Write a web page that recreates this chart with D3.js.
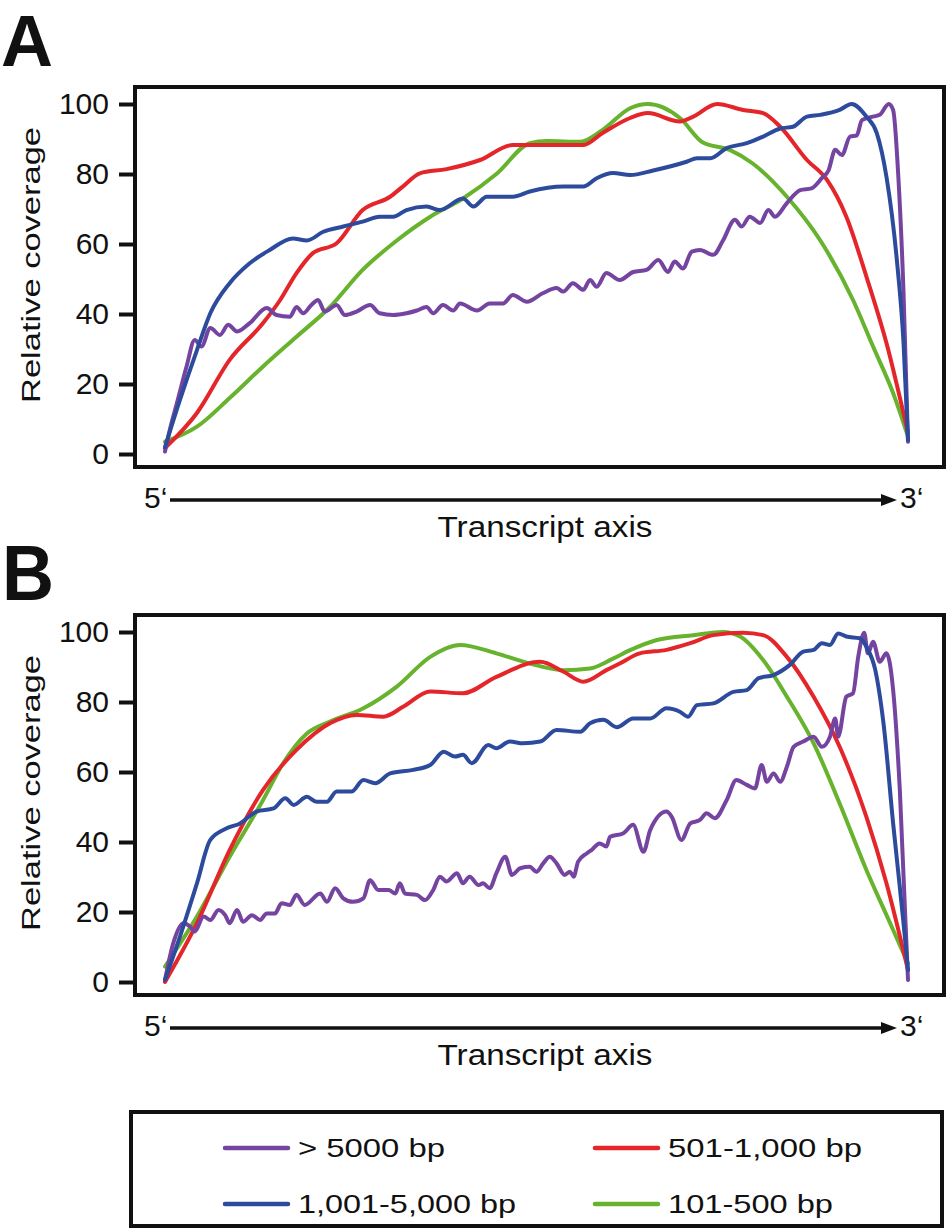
<!DOCTYPE html>
<html>
<head>
<meta charset="utf-8">
<script src="https://cdn.jsdelivr.net/npm/d3@7"></script>
<style>
  html, body { margin: 0; padding: 0; background: #fff; }
  svg text { font-family: "Liberation Sans", Arial, Helvetica, sans-serif; fill: #111; }
</style>
</head>
<body>
<svg id="chart" width="948" height="1230"></svg>
<script>
// ---------------- DATA ----------------
// position along transcript (0 = 5' end, 100 = 3' end), relative coverage (%)
const seriesNames = ["> 5000 bp", "1,001-5,000 bp", "501-1,000 bp", "101-500 bp"];
const seriesColors = ["#7444a0", "#2c4b9c", "#e4262b", "#67b32e"];
const yTicks = [0, 20, 40, 60, 80, 100];
const panelLabels = ["A", "B"];

const purpleA = [[0,0.7],[0.7,7.4],[1.6,14.5],[2.9,25],[4,32.6],[4.9,30.7],[6.1,36],[7.4,34],[8.5,36.9],[9.7,35],[11.4,37.4],[13.7,41.7],[15,39.7],[16.8,39.2],[17.7,42],[18.6,40.2],[19.7,42.6],[20.6,44],[21.5,40.7],[23.1,42.6],[24.2,39.7],[25.8,40.7],[27.6,42.6],[28.9,40.2],[30.7,39.7],[32.5,40.2],[33.9,41],[35.2,42],[36.1,40.2],[37.4,42.6],[38.8,41],[39.7,43],[42,41],[43.7,43],[45.5,43],[46.8,45.4],[48.7,43.5],[50.9,46],[52.7,47.4],[53.6,46.4],[54.9,48.8],[56.3,46.9],[57.2,49.7],[58.1,47.8],[59.4,51.7],[61.2,49.7],[63,52],[64.8,52.6],[66.4,55.4],[67.7,52],[68.6,55],[69.7,53],[70.9,57.8],[72,58.3],[73.8,56.9],[75.1,61],[76.7,66.9],[77.6,65],[78.7,67.8],[80.1,66],[81.2,69.7],[82.1,67.8],[83.7,71.7],[85.5,75.4],[87,75.9],[88.4,78.8],[89.3,81],[90.2,86.9],[91.1,85.4],[92.2,90.7],[93.1,91],[93.8,95.4],[95.3,96.4],[96.2,96.9],[97.4,100],[98,98.3],[98.7,79.2],[99.4,46],[100,3.5]];
const blueA = [[0,2],[2,15.4],[4.3,29.7],[6.1,40.2],[8.7,48.8],[11.4,54.5],[14.1,58.3],[17.2,61.6],[19.1,61],[21.3,63.5],[24,65],[26.6,66.4],[28.9,67.8],[30.7,67.8],[32.5,69.7],[35.2,70.7],[37,69.7],[40.1,73],[41.5,70.7],[43.3,73.5],[46.8,73.5],[49.1,75],[53.6,76.4],[56.3,76.4],[58.1,78.8],[60.3,80.3],[62.6,79.7],[65.7,81],[70.2,83.5],[71.6,84.5],[73.4,84.5],[75.6,87.4],[78.3,88.8],[80.5,90.7],[82.8,93],[84.5,93.5],[86.4,96.4],[88.2,96.9],[90.8,98.3],[92.4,100],[94.4,96.4],[95.8,91.7],[97.1,79.2],[98.5,55.4],[99.4,31.7],[100,4]];
const redA = [[0,1.7],[4.3,11.7],[8.7,26.9],[13.2,37.4],[15.5,44],[17.7,51.7],[19.9,57.4],[23.1,60.2],[26.6,69.7],[30.3,73.5],[32,76.4],[34.3,80.2],[37.9,81.4],[42.4,84],[46.8,88.3],[51.4,88.3],[56.3,88.3],[58.9,91.7],[62.6,96],[65,97.4],[69.3,95],[71.1,96.4],[74.3,100],[77.8,98.3],[80.5,97.4],[82.8,93.5],[86.4,84],[89.1,78.3],[91.7,67.8],[94.4,50.7],[97.1,31.7],[100,6]];
const greenA = [[0,3.5],[4.3,7.8],[8.7,16],[13.2,25],[17.7,33.5],[22.2,42],[26.6,52.6],[31.2,61],[35.7,67.8],[40.1,73],[44.6,80],[49.1,88.8],[51.4,89.4],[55.9,89.2],[58.9,92.6],[62.6,98.8],[65,100],[69.3,96],[72.4,89],[76,86.9],[79.1,83],[83.7,73.5],[88.2,61],[92.6,44],[95.3,30.7],[98,17.4],[100,5]];

const purpleB = [[0,0.6],[1.1,11],[2.5,16.8],[3.4,15.8],[4,14.4],[5.2,18.7],[6.1,17.7],[7.2,20.6],[8.1,19.1],[8.7,16.8],[9.7,20.6],[10.5,17.2],[11.7,19.1],[12.8,17.7],[13.7,19.6],[14.8,19.6],[15.7,22.5],[16.8,22],[17.7,24.9],[18.8,22],[20.9,25.3],[21.8,22.9],[22.9,26.8],[24,23.9],[25.3,22.9],[26.7,23.9],[27.6,29.1],[28.7,26.3],[30.1,26.3],[31,25.3],[31.6,28.2],[32.3,25.3],[33.9,24.9],[35,23.4],[36.1,26.3],[37,30.1],[37.9,28.7],[39.3,31.1],[40.1,28.2],[41,30.1],[42.2,27.7],[42.8,28.2],[43.7,26.8],[44.6,31.1],[45.8,35.8],[46.7,30.6],[47.8,32.5],[49.1,32.9],[50,31.5],[50.9,33.9],[51.8,35.8],[52.7,33.9],[53.8,30.6],[54.5,31.5],[55,30.1],[55.6,34.4],[56.8,36.8],[57.4,37.7],[58.5,39.6],[59.4,38.7],[59.9,41.5],[61.7,42.5],[63,44.9],[64.4,37.2],[65.3,43.4],[67.5,48.7],[68.2,47.2],[69.5,40.6],[70.7,45.3],[72,46.3],[72.9,48.2],[74,46.8],[75.6,52],[76.9,57.7],[78.3,56.3],[79.4,55.3],[80.3,62],[81,57.2],[81.9,59.6],[82.8,57.2],[83.7,61.5],[84.6,67.2],[85.9,68.7],[87.3,70.1],[88.4,67.2],[89.5,70.1],[90.2,75.3],[90.6,70.1],[91.7,81.5],[92.6,82.5],[93.3,92.9],[94.1,99.8],[94.6,93.9],[95.3,97.2],[96.2,91.5],[97.1,93.9],[98,83.4],[98.9,54.9],[100,0.6]];
const blueB = [[0,0.6],[2,12.9],[4.3,28.2],[6.1,40.6],[8.3,43.9],[10.1,45.3],[12.3,48.7],[14.6,49.6],[16.2,52.5],[17.3,50.6],[19.1,52.9],[20.4,51.5],[21.8,51.5],[23.1,54.4],[25.1,54.4],[26.7,57.7],[28.3,56.8],[30.3,59.6],[33.4,60.6],[35.7,62],[37.5,65.8],[39,64.4],[40.1,64.9],[41.3,62.5],[43.5,67.7],[44.6,66.8],[46.4,68.7],[48.2,68.2],[50.5,68.7],[52.7,72],[55.9,71.5],[57.2,73.9],[59,74.9],[60.8,72.8],[63,75.3],[65.3,75.3],[67.5,78.2],[69.3,77.2],[70.4,75.8],[71.6,79.1],[73.8,79.6],[76.5,82.9],[78.3,83.4],[79.9,86.8],[81.9,87.7],[84.1,90.6],[85.9,94.4],[87.3,94.9],[88.4,96.8],[89.5,96.3],[90.6,99.6],[91.7,98.7],[93.5,98.2],[94.4,95.8],[95.6,89.1],[96.7,73.9],[98,45.3],[99.4,16.8],[100,3.4]];
const redB = [[0,0],[4.3,16.8],[8.7,37.7],[13.2,54.9],[17.7,66.3],[22.2,73.9],[25.8,76.3],[29.4,75.8],[32.1,78.7],[35.7,83],[40.1,82.5],[44.6,87.2],[50.5,91.5],[53.6,88.7],[56.3,85.8],[59.4,89.1],[61.2,91],[63.9,93.9],[67.5,94.9],[70.7,96.8],[73.8,99.1],[77.8,99.8],[80.5,99.1],[83.7,92.9],[87.3,81.5],[90.8,67.2],[94.4,47.2],[97.1,28.2],[100,3.4]];
const greenB = [[0,4.4],[4.3,18.7],[8.7,35.8],[13.2,52],[15.9,62.5],[19.1,71],[22.2,74.4],[26.7,78.2],[31.2,84.4],[35.7,92.9],[39.7,96.3],[44.6,93.9],[49.1,91],[53.6,89.1],[57.2,89.6],[60.3,92.4],[62.6,94.8],[66.2,97.7],[71.1,99.1],[75.1,100],[77.4,98.7],[80.5,92],[83.7,81.5],[87.3,68.2],[90.8,51],[94.4,32],[97.6,16.8],[100,5.3]];

const panels = [
  { label: panelLabels[0], series: [purpleA, blueA, redA, greenA] },
  { label: panelLabels[1], series: [purpleB, blueB, redB, greenB] }
];

// ---------------- DRAW ----------------
const svg = d3.select("#chart");
const FONT = 30;
const panelOffset = 528;

const x = d3.scaleLinear().domain([0, 100]).range([165, 908]);
const drawOrder = [3, 2, 0, 1];

panels.forEach((p, i) => {
  const g = svg.append("g").attr("transform", `translate(0,${i * panelOffset})`);
  const y = d3.scaleLinear().domain([0, 100]).range([454, 104]);

  // panel letter
  g.append("text").attr("x", i === 0 ? 1 : 2).attr("y", i === 0 ? 66 : 72)
    .attr("font-size", i === 0 ? 73 : 77).attr("font-weight", "bold")
    .attr("textLength", 52).attr("lengthAdjust", "spacingAndGlyphs")
    .style("fill", "#111").text(p.label);

  // y axis
  const ax = g.append("g").attr("transform", "translate(135,0)")
    .call(d3.axisLeft(y).tickValues(yTicks).tickSize(16).tickPadding(10).tickFormat(d3.format("d")));
  ax.select(".domain").remove();
  ax.selectAll(".tick line").attr("stroke", "#111").attr("stroke-width", 4);
  ax.selectAll(".tick text").attr("font-size", FONT).style("fill", "#111")
    .attr("font-family", '"Liberation Sans", Arial, sans-serif');

  // y label
  g.append("text").attr("transform", "translate(40,265) rotate(-90)")
    .attr("text-anchor", "middle").attr("font-size", 25)
    .attr("textLength", 276).attr("lengthAdjust", "spacingAndGlyphs")
    .text("Relative coverage");

  // lines
  const line = d3.line().x(d => x(d[0])).y(d => y(d[1])).curve(d3.curveMonotoneX);
  drawOrder.forEach(k => {
    g.append("path").datum(p.series[k]).attr("d", line)
      .attr("fill", "none").attr("stroke", seriesColors[k])
      .attr("stroke-width", 4).attr("stroke-linejoin", "round").attr("stroke-linecap", "round");
  });

  // frame
  g.append("rect").attr("x", 135).attr("y", 87).attr("width", 809).attr("height", 380)
    .attr("fill", "none").attr("stroke", "#111").attr("stroke-width", 4);

  // transcript axis arrow
  g.append("line").attr("x1", x(0) + 5).attr("x2", x(100) - 24).attr("y1", 500).attr("y2", 500)
    .attr("stroke", "#111").attr("stroke-width", 3.5);
  const tip = x(100) - 11;
  g.append("path").attr("d", `M${tip - 16},${500 - 6}L${tip},500L${tip - 16},${500 + 6}Z`).attr("fill", "#111");
  g.append("text").attr("x", 144).attr("y", 508).attr("font-size", FONT).text("5\u2018");
  g.append("text").attr("x", 900).attr("y", 508).attr("font-size", FONT).text("3\u2018");
  g.append("text").attr("x", 545).attr("y", 537).attr("text-anchor", "middle").attr("font-size", FONT)
    .attr("textLength", 215).attr("lengthAdjust", "spacingAndGlyphs").text("Transcript axis");
});

// legend
const lg = svg.append("g");
lg.append("rect").attr("x", 131).attr("y", 1112).attr("width", 811).attr("height", 114)
  .attr("fill", "none").attr("stroke", "#111").attr("stroke-width", 4);
const legendPos = [
  { lx: 225, ly: 1148, w: 147 },
  { lx: 225, ly: 1204, w: 218 },
  { lx: 595, ly: 1148, w: 194 },
  { lx: 595, ly: 1204, w: 165 }
];
seriesNames.forEach((name, k) => {
  const pos = legendPos[k];
  lg.append("line").attr("x1", pos.lx).attr("x2", pos.lx + 63).attr("y1", pos.ly).attr("y2", pos.ly)
    .attr("stroke", seriesColors[k]).attr("stroke-width", 4.5).attr("stroke-linecap", "round");
  lg.append("text").attr("x", pos.lx + 73).attr("y", pos.ly + 9).attr("font-size", 25)
    .attr("textLength", pos.w).attr("lengthAdjust", "spacingAndGlyphs").text(name);
});
</script>
</body>
</html>
